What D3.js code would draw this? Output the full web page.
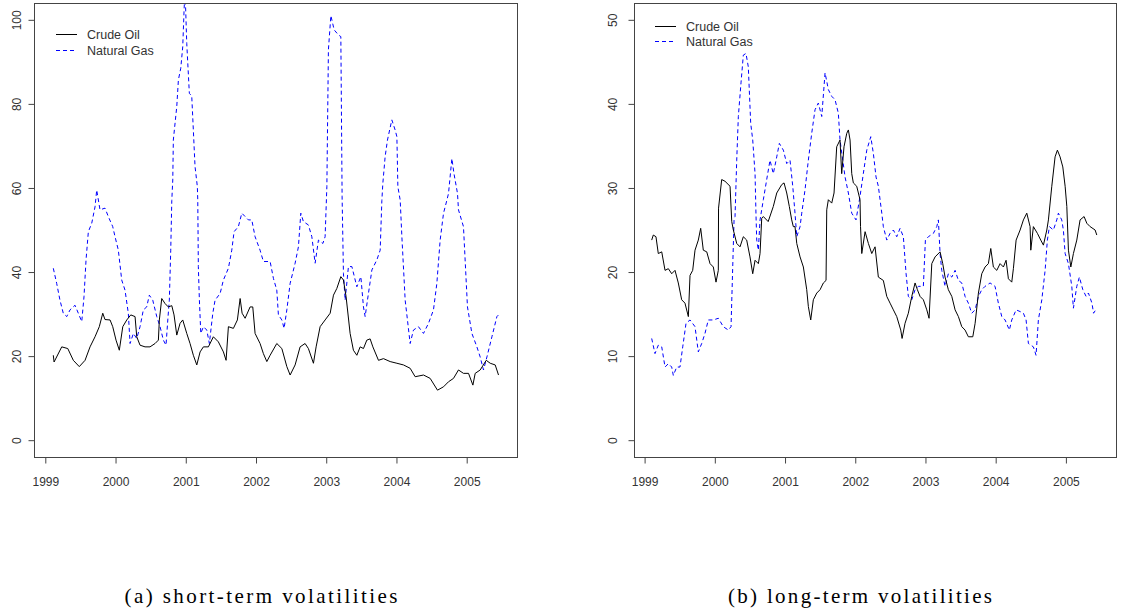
<!DOCTYPE html>
<html><head><meta charset="utf-8">
<script src="https://cdn.jsdelivr.net/npm/d3@7"></script>
<style>body{margin:0;background:#fff}svg{display:block}</style>
</head><body><svg id="c" width="1122" height="614"></svg>
<script>
// ---------- data ----------
const yearTicks = [1999, 2000, 2001, 2002, 2003, 2004, 2005];
const shortTermTicks = [0, 20, 40, 60, 80, 100];
const longTermTicks = [0, 10, 20, 30, 40, 50];
const seriesNames = ["Crude Oil", "Natural Gas"];
const captions = ["(a)  short-term volatilities", "(b)  long-term volatilities"];

// short-term volatility, crude oil [decimal year, %]
const oilShort = [[1999.114,20.2],[1999.125,18.6],[1999.234,22.2],[1999.32,21.8],[1999.399,19.0],[1999.484,17.5],[1999.566,19.0],[1999.637,22.2],[1999.708,24.6],[1999.769,27.0],[1999.818,30.2],[1999.850,28.7],[1999.922,28.6],[1999.960,27.0],[2000.007,23.8],[2000.054,21.4],[2000.103,27.0],[2000.160,28.6],[2000.217,29.8],[2000.278,29.4],[2000.302,24.6],[2000.349,22.6],[2000.420,22.2],[2000.491,22.2],[2000.563,23.0],[2000.610,23.8],[2000.624,28.6],[2000.658,33.7],[2000.705,32.5],[2000.752,31.7],[2000.801,32.0],[2000.833,29.8],[2000.872,25.0],[2000.919,27.8],[2000.957,28.6],[2001.014,25.4],[2001.061,23.0],[2001.108,20.2],[2001.157,17.9],[2001.204,21.0],[2001.251,22.2],[2001.322,22.2],[2001.393,24.6],[2001.464,23.4],[2001.536,21.0],[2001.574,19.0],[2001.607,27.0],[2001.678,26.6],[2001.735,28.6],[2001.774,33.7],[2001.802,30.2],[2001.845,29.0],[2001.916,31.7],[2001.954,31.7],[2001.987,25.4],[2002.058,23.0],[2002.105,20.6],[2002.154,18.7],[2002.201,20.2],[2002.296,23.0],[2002.368,21.8],[2002.439,17.5],[2002.486,15.5],[2002.557,17.9],[2002.628,22.2],[2002.699,23.0],[2002.746,21.8],[2002.818,18.3],[2002.856,22.2],[2002.913,27.0],[2002.984,28.6],[2003.056,30.2],[2003.103,34.5],[2003.151,36.1],[2003.208,38.9],[2003.245,38.1],[2003.283,34.1],[2003.340,25.4],[2003.387,21.4],[2003.436,20.2],[2003.483,22.2],[2003.530,21.8],[2003.578,23.8],[2003.625,24.1],[2003.664,22.2],[2003.744,19.0],[2003.815,19.4],[2003.910,18.7],[2004.006,18.3],[2004.100,17.9],[2004.195,17.1],[2004.266,15.1],[2004.385,15.5],[2004.480,14.7],[2004.584,11.9],[2004.670,12.7],[2004.741,13.9],[2004.812,14.7],[2004.883,16.7],[2004.954,15.9],[2005.026,15.9],[2005.088,13.1],[2005.121,15.9],[2005.192,16.7],[2005.278,19.0],[2005.335,18.3],[2005.406,17.9],[2005.453,15.5]];

// short-term volatility, natural gas
const gasShort = [[1999.114,40.9],[1999.162,37.3],[1999.209,33.3],[1999.256,30.2],[1999.305,29.4],[1999.352,31.0],[1999.423,32.1],[1999.470,30.2],[1999.519,28.2],[1999.551,34.1],[1999.580,42.9],[1999.613,49.6],[1999.661,51.6],[1999.708,55.5],[1999.732,59.5],[1999.779,54.8],[1999.850,55.2],[1999.897,53.2],[1999.960,50.8],[1999.993,48.4],[2000.040,45.2],[2000.088,38.1],[2000.135,35.7],[2000.182,30.2],[2000.207,23.0],[2000.254,25.4],[2000.302,24.2],[2000.349,27.0],[2000.396,31.0],[2000.444,31.7],[2000.481,34.5],[2000.530,33.3],[2000.587,29.4],[2000.634,27.0],[2000.681,23.8],[2000.719,22.6],[2000.744,28.6],[2000.766,33.3],[2000.786,45.2],[2000.801,57.0],[2000.815,61.9],[2000.823,71.4],[2000.872,79.4],[2000.895,85.7],[2000.929,88.5],[2000.957,93.6],[2000.976,102.4],[2000.990,107.0],[2001.014,94.4],[2001.051,82.5],[2001.085,81.9],[2001.132,65.1],[2001.165,60.3],[2001.171,57.1],[2001.179,41.3],[2001.194,33.3],[2001.214,25.4],[2001.251,27.0],[2001.299,26.2],[2001.336,23.0],[2001.385,30.2],[2001.417,33.3],[2001.489,34.9],[2001.536,38.1],[2001.607,40.9],[2001.655,45.2],[2001.688,49.6],[2001.749,50.8],[2001.798,54.0],[2001.845,53.2],[2001.892,52.4],[2001.940,52.4],[2001.987,48.4],[2002.058,45.2],[2002.105,42.5],[2002.201,42.5],[2002.248,38.5],[2002.296,35.7],[2002.319,29.8],[2002.368,28.6],[2002.400,26.6],[2002.439,31.0],[2002.486,37.3],[2002.557,42.1],[2002.604,46.0],[2002.638,54.0],[2002.675,52.0],[2002.746,51.2],[2002.795,48.4],[2002.842,42.1],[2002.889,47.6],[2002.952,46.8],[2002.984,48.4],[2003.009,60.3],[2003.031,92.9],[2003.066,101.0],[2003.113,97.6],[2003.174,96.4],[2003.208,96.0],[2003.226,57.9],[2003.245,39.7],[2003.269,33.3],[2003.316,41.3],[2003.365,41.3],[2003.436,36.5],[2003.493,38.9],[2003.530,31.7],[2003.554,29.4],[2003.587,33.3],[2003.650,40.5],[2003.721,42.9],[2003.768,45.2],[2003.792,57.0],[2003.806,61.1],[2003.839,67.5],[2003.872,71.4],[2003.934,76.2],[2003.981,73.8],[2004.006,72.2],[2004.020,60.3],[2004.053,57.1],[2004.077,48.4],[2004.124,33.3],[2004.195,23.0],[2004.242,26.2],[2004.313,27.0],[2004.385,25.4],[2004.456,27.8],[2004.527,31.0],[2004.575,37.3],[2004.622,47.6],[2004.670,54.0],[2004.718,57.1],[2004.741,58.7],[2004.789,67.0],[2004.818,63.5],[2004.869,58.7],[2004.883,54.8],[2004.954,50.8],[2005.011,31.7],[2005.074,25.4],[2005.145,22.2],[2005.192,19.8],[2005.239,16.7],[2005.288,19.8],[2005.359,24.6],[2005.430,29.4],[2005.453,29.8]];

// long-term volatility, crude oil
const oilLong = [[1999.101,23.8],[1999.124,24.4],[1999.162,24.2],[1999.195,22.2],[1999.244,22.4],[1999.291,20.2],[1999.338,20.4],[1999.386,19.8],[1999.433,20.2],[1999.480,18.7],[1999.528,16.7],[1999.575,16.3],[1999.623,14.7],[1999.647,19.6],[1999.685,20.2],[1999.718,22.6],[1999.765,23.8],[1999.799,25.2],[1999.836,22.6],[1999.885,22.4],[1999.932,21.0],[1999.979,20.6],[2000.017,18.8],[2000.050,20.2],[2000.053,27.6],[2000.098,31.0],[2000.145,30.8],[2000.217,30.2],[2000.241,26.0],[2000.264,25.0],[2000.312,23.4],[2000.359,23.0],[2000.406,24.2],[2000.454,23.8],[2000.501,21.8],[2000.540,19.8],[2000.573,21.4],[2000.620,21.0],[2000.644,22.2],[2000.668,26.4],[2000.691,26.6],[2000.760,26.0],[2000.833,27.8],[2000.882,29.4],[2000.953,30.4],[2000.986,30.6],[2001.024,29.4],[2001.061,27.8],[2001.095,26.2],[2001.118,25.4],[2001.142,25.4],[2001.167,23.4],[2001.214,21.8],[2001.261,20.6],[2001.309,17.9],[2001.332,15.9],[2001.366,14.3],[2001.403,16.7],[2001.452,17.5],[2001.499,17.9],[2001.546,18.7],[2001.584,19.0],[2001.594,27.4],[2001.617,28.6],[2001.665,28.2],[2001.698,29.4],[2001.736,34.9],[2001.783,35.7],[2001.807,31.7],[2001.840,34.9],[2001.879,36.5],[2001.902,36.9],[2001.926,35.7],[2001.950,31.7],[2001.973,30.6],[2002.021,30.2],[2002.068,28.6],[2002.075,25.4],[2002.093,22.2],[2002.140,24.8],[2002.187,23.4],[2002.235,22.2],[2002.282,23.0],[2002.329,19.4],[2002.400,19.0],[2002.449,17.1],[2002.496,16.3],[2002.543,15.5],[2002.591,14.7],[2002.648,13.1],[2002.667,12.1],[2002.709,13.9],[2002.756,15.1],[2002.805,17.1],[2002.852,18.7],[2002.885,17.9],[2002.923,17.1],[2002.970,16.7],[2003.019,15.5],[2003.051,14.5],[2003.090,21.0],[2003.137,21.8],[2003.208,22.4],[2003.246,21.0],[2003.279,19.4],[2003.326,17.9],[2003.375,17.1],[2003.422,15.5],[2003.469,14.7],[2003.517,13.5],[2003.564,13.1],[2003.611,12.3],[2003.674,12.3],[2003.707,13.9],[2003.754,17.5],[2003.802,19.8],[2003.849,20.6],[2003.896,21.0],[2003.930,22.8],[2003.967,20.6],[2004.016,20.2],[2004.063,21.0],[2004.110,20.6],[2004.148,21.4],[2004.181,19.2],[2004.229,18.8],[2004.252,20.4],[2004.291,23.8],[2004.348,25.0],[2004.395,26.2],[2004.443,27.0],[2004.490,25.4],[2004.500,22.6],[2004.537,25.4],[2004.594,24.6],[2004.642,23.8],[2004.680,23.2],[2004.728,25.0],[2004.751,26.2],[2004.799,30.2],[2004.846,33.7],[2004.879,34.5],[2004.917,33.7],[2004.956,32.5],[2004.989,30.2],[2005.013,27.8],[2005.036,22.6],[2005.070,20.6],[2005.107,22.2],[2005.155,23.8],[2005.202,26.2],[2005.259,26.6],[2005.298,25.8],[2005.345,25.4],[2005.416,25.0],[2005.440,24.4]];

// long-term volatility, natural gas
const gasLong = [[1999.101,12.1],[1999.148,10.3],[1999.195,11.3],[1999.244,11.1],[1999.291,8.7],[1999.338,9.1],[1999.386,8.7],[1999.409,7.7],[1999.457,8.7],[1999.504,8.7],[1999.543,11.1],[1999.590,13.9],[1999.647,14.3],[1999.718,13.5],[1999.765,10.5],[1999.813,11.5],[1999.860,12.7],[1999.907,14.3],[1999.979,14.3],[2000.050,14.5],[2000.121,13.5],[2000.192,13.1],[2000.231,13.5],[2000.255,20.6],[2000.274,26.2],[2000.288,26.6],[2000.312,33.3],[2000.335,38.5],[2000.373,42.5],[2000.406,45.8],[2000.444,46.0],[2000.477,44.4],[2000.511,37.7],[2000.540,35.7],[2000.573,31.7],[2000.587,26.6],[2000.597,23.8],[2000.620,22.6],[2000.644,26.2],[2000.691,28.6],[2000.739,31.0],[2000.786,33.3],[2000.833,31.7],[2000.882,33.7],[2000.919,35.3],[2000.976,34.5],[2001.024,32.9],[2001.071,33.3],[2001.110,30.2],[2001.142,27.0],[2001.167,24.2],[2001.214,25.4],[2001.238,27.0],[2001.285,29.8],[2001.332,33.3],[2001.380,36.5],[2001.427,39.3],[2001.474,40.1],[2001.523,38.5],[2001.570,43.7],[2001.617,41.7],[2001.665,40.9],[2001.712,40.5],[2001.759,38.9],[2001.783,35.7],[2001.822,33.3],[2001.855,31.3],[2001.902,29.4],[2001.950,27.0],[2002.011,26.2],[2002.068,29.0],[2002.115,31.7],[2002.164,34.5],[2002.221,36.1],[2002.258,34.1],[2002.296,31.3],[2002.329,30.2],[2002.378,27.0],[2002.400,25.4],[2002.449,23.8],[2002.496,24.6],[2002.543,25.0],[2002.591,24.2],[2002.638,25.2],[2002.685,24.2],[2002.724,19.8],[2002.756,17.1],[2002.805,16.7],[2002.852,17.9],[2002.899,18.3],[2002.970,18.3],[2002.999,23.8],[2003.041,24.2],[2003.113,24.6],[2003.161,25.4],[2003.184,26.2],[2003.208,22.2],[2003.232,20.2],[2003.279,18.3],[2003.326,19.8],[2003.375,19.4],[2003.422,20.2],[2003.469,19.0],[2003.517,18.7],[2003.564,17.1],[2003.611,16.3],[2003.659,15.1],[2003.707,15.5],[2003.754,17.1],[2003.802,17.9],[2003.849,18.3],[2003.920,18.7],[2003.991,18.3],[2004.038,16.3],[2004.087,14.7],[2004.134,14.3],[2004.195,13.1],[2004.229,14.3],[2004.291,15.5],[2004.348,15.3],[2004.395,15.1],[2004.433,14.3],[2004.466,11.5],[2004.537,11.1],[2004.575,10.1],[2004.608,14.3],[2004.657,16.7],[2004.704,20.2],[2004.736,23.8],[2004.765,25.4],[2004.822,25.0],[2004.870,26.2],[2004.893,27.0],[2004.941,26.2],[2004.964,25.0],[2004.989,22.2],[2005.036,21.0],[2005.084,18.3],[2005.107,15.7],[2005.155,18.3],[2005.192,19.4],[2005.241,17.9],[2005.288,17.1],[2005.321,17.5],[2005.371,16.3],[2005.394,15.1],[2005.440,15.7]];

// ---------- drawing ----------
const svg = d3.select("#c");
const FONT = "'Liberation Sans', Arial, sans-serif";

function panel(cfg, idx) {
  const g = svg.append("g");
  const x = d3.scaleLinear().domain([1999, 2005]).range([cfg.tick0, cfg.tick1]);
  const y = d3.scaleLinear().domain([-0.04 * cfg.yMax, 1.04 * cfg.yMax]).range([cfg.bottom, cfg.top]);

  const clipId = "clip" + idx;
  svg.append("defs").append("clipPath").attr("id", clipId)
    .append("rect").attr("x", cfg.left).attr("y", cfg.top)
    .attr("width", cfg.right - cfg.left).attr("height", cfg.bottom - cfg.top);

  const line = d3.line().x(d => x(d[0])).y(d => y(d[1]));
  const lines = g.append("g").attr("clip-path", `url(#${clipId})`);
  lines.append("path").datum(cfg.gas).attr("d", line)
    .attr("fill", "none").attr("stroke", "#0000ff").attr("stroke-width", 1)
    .attr("stroke-dasharray", "4,3");
  lines.append("path").datum(cfg.oil).attr("d", line)
    .attr("fill", "none").attr("stroke", "#000").attr("stroke-width", 1);

  // box
  g.append("rect").attr("x", cfg.left + 0.5).attr("y", cfg.top + 0.5)
    .attr("width", cfg.right - cfg.left).attr("height", cfg.bottom - cfg.top)
    .attr("fill", "none").attr("stroke", "#444").attr("stroke-width", 1);

  // x axis
  const xa = g.append("g").attr("transform", `translate(0,${cfg.bottom + 0.5})`)
    .call(d3.axisBottom(x).tickValues(yearTicks).tickFormat(d3.format("d")).tickSize(6).tickPadding(14));
  xa.select(".domain").remove();
  xa.selectAll("line").attr("stroke", "#444");
  xa.selectAll("text").attr("font-family", FONT).attr("font-size", 12).attr("fill", "#333");

  // y axis
  const ya = g.append("g").attr("transform", `translate(${cfg.left + 0.5},0)`)
    .call(d3.axisLeft(y).tickValues(cfg.yTicks).tickSize(6).tickFormat(d3.format("d")));
  ya.select(".domain").remove();
  ya.selectAll("line").attr("stroke", "#444");
  ya.selectAll("text").remove();
  ya.selectAll(".tick").append("text")
    .attr("transform", `translate(${cfg.labelX - cfg.left - 0.5},0) rotate(-90)`)
    .attr("text-anchor", "middle")
    .attr("font-family", FONT).attr("font-size", 12).attr("fill", "#333")
    .text(d => d);

  // legend
  const styles = [{c: "#000", dash: null}, {c: "#0000ff", dash: "4,3"}];
  seriesNames.forEach((name, i) => {
    const ly = cfg.legY + i * cfg.legStep;
    g.append("line").attr("x1", cfg.legX).attr("x2", cfg.legX + 21)
      .attr("y1", ly + 0.5).attr("y2", ly + 0.5)
      .attr("stroke", styles[i].c).attr("stroke-width", 1)
      .attr("stroke-dasharray", styles[i].dash);
    g.append("text").attr("x", cfg.legX + 31).attr("y", ly + 4.5)
      .attr("font-family", FONT).attr("font-size", 12.5).attr("fill", "#333").text(name);
  });

  // caption
  svg.append("text").attr("x", cfg.capX).attr("y", 603)
    .attr("text-anchor", "middle")
    .attr("font-family", "'Liberation Serif', 'DejaVu Serif', serif")
    .attr("font-size", 21).attr("fill", "#000")
    .attr("textLength", cfg.capLen).attr("lengthAdjust", "spacing")
    .text(captions[idx]);
}

panel({left: 34, right: 517, top: 3, bottom: 457, tick0: 45.3, tick1: 466.7,
       yMax: 100, yTicks: shortTermTicks, labelX: 21, oil: oilShort, gas: gasShort,
       legX: 56, legY: 34, legStep: 16, capX: 261, capLen: 273}, 0);
panel({left: 634, right: 1116, top: 3, bottom: 457, tick0: 644.6, tick1: 1065.9,
       yMax: 50, yTicks: longTermTicks, labelX: 617, oil: oilLong, gas: gasLong,
       legX: 655, legY: 26, legStep: 15, capX: 860, capLen: 264}, 1);
</script></body></html>
